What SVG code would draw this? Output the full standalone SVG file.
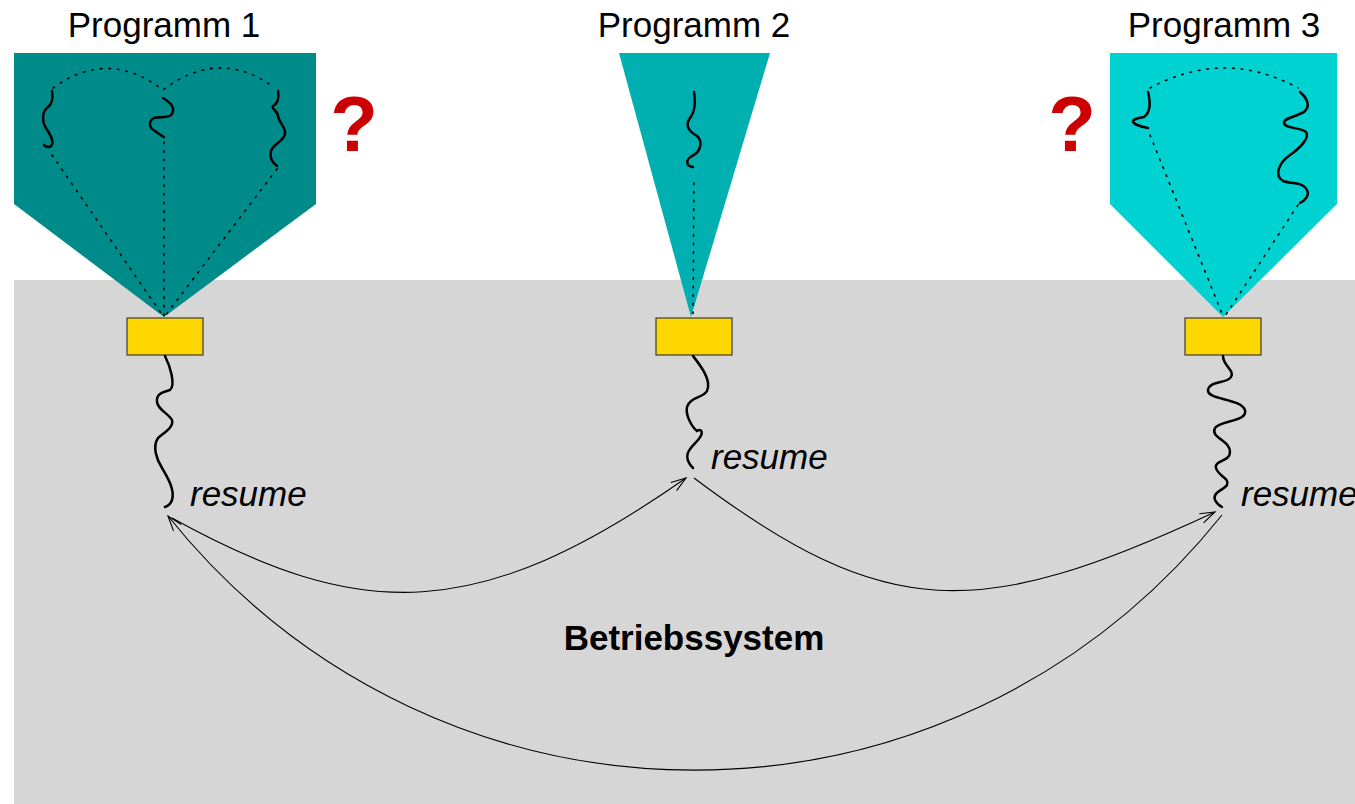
<svg xmlns="http://www.w3.org/2000/svg" width="1355" height="804" viewBox="0 0 1355 804">
<defs>
<style>
.title{font-family:"Liberation Sans",Arial,sans-serif;font-size:35px;fill:#000;text-anchor:middle}
.res{font-family:"Liberation Sans",Arial,sans-serif;font-size:35px;font-style:italic;fill:#000}
.os{font-family:"Liberation Sans",Arial,sans-serif;font-size:35px;font-weight:bold;fill:#000;text-anchor:middle}
.q{font-family:"Liberation Sans",Arial,sans-serif;font-size:78px;font-weight:bold;fill:#CC0000;text-anchor:middle}
.box{fill:#FFD700;stroke:#3a3a3a;stroke-width:1.2}
.sq{fill:none;stroke:#000;stroke-width:2.5;stroke-linecap:round}
.dot{fill:none;stroke:#000;stroke-width:1.6;stroke-dasharray:1.6 7;stroke-linecap:round}
.con{fill:none;stroke:#000;stroke-width:1.1}
</style>
<marker id="arr" markerUnits="userSpaceOnUse" markerWidth="20" markerHeight="14" viewBox="-16 -7 18 14" refX="0" refY="0" orient="auto">
<path d="M-15,-5 L0,0 L-15,5" fill="none" stroke="#000" stroke-width="1.1"/>
</marker>
</defs>

<rect id="betriebssystem-bg" x="14" y="280" width="1341" height="524" fill="#D6D6D6"/>

<g id="programm1">
<polygon points="14,53 316,53 316,204 164,317 14,204" fill="#008B8B"/>
<path class="dot" d="M53,88 Q108,48 163,90 Q218,48 272,86"/>
<path class="dot" d="M52,155 L163,316"/>
<path class="dot" d="M164,142 L164,316"/>
<path class="dot" d="M277,169 L165,316"/>
<path class="sq" d="M52,91 C53,97 53,104 47,108 C42,112 42,122 46,128 C50,134 55,142 51,146 C49,148 46,147 44,145"/>
<path class="sq" d="M163,98 C168,101 176,107 172,114 C169,119 160,116 154,118 C148,121 149,128 155,131 C159,134 162,136 164,137"/>
<path class="sq" d="M278,91 C279,97 279,103 273,106 C271,109 278,111 278,116 C279,123 286,127 285,134 C284,141 273,144 271,151 C269,158 273,163 277,166"/>
<text class="title" x="164" y="37">Programm 1</text>
<text class="q" x="354" y="151">?</text>
<rect class="box" x="127" y="318" width="76" height="37"/>
<path class="sq" d="M165,356 C170,366 176,385 170,390 C164,392 156,393 157,402 C158,410 168,413 172,420 C174,427 165,432 158,438 C152,447 157,460 162,468 C168,478 175,490 172,500 C171,503 168,506 165,507"/>
<text class="res" x="190" y="506">resume</text>
</g>

<g id="programm2">
<polygon points="619,53 770,53 691,317" fill="#00AFAF"/>
<path class="dot" d="M694,183 L693,316"/>
<path class="sq" d="M694,92 C695,100 696,110 690,118 C684,126 690,132 697,136 C703,141 701,152 692,156 C685,160 686,166 693,167"/>
<text class="title" x="694" y="37">Programm 2</text>
<rect class="box" x="656" y="318" width="76" height="37"/>
<path class="sq" d="M693,356 C700,365 712,380 707,391 C703,398 690,397 687,407 C685,416 693,428 697,431 C702,428 704,433 698,440 C692,447 680,455 693,468"/>
<text class="res" x="711" y="469">resume</text>
</g>

<g id="programm3">
<polygon points="1110,53 1337,53 1337,204 1223,317 1110,204" fill="#00D2D2"/>
<path class="dot" d="M1150,88 Q1225,48 1298,88"/>
<path class="dot" d="M1150,135 L1223,316"/>
<path class="dot" d="M1298,205 L1225,316"/>
<path class="sq" d="M1148,92 C1150,100 1151,112 1144,117 C1138,118 1130,120 1134,123 C1137,126 1143,127 1148,128"/>
<path class="sq" d="M1300,92 C1306,97 1311,105 1305,111 C1298,117 1284,117 1284,123 C1285,129 1300,127 1306,132 C1310,138 1300,148 1290,155 C1280,162 1273,175 1283,181 C1290,184 1302,181 1307,190 C1310,196 1304,201 1300,203"/>
<text class="title" x="1224" y="37">Programm 3</text>
<text class="q" x="1072" y="151">?</text>
<rect class="box" x="1185" y="318" width="76" height="37"/>
<path class="sq" d="M1223,356 C1223,366 1235,370 1231,377 C1227,384 1210,380 1208,390 C1207,400 1240,398 1245,410 C1248,422 1220,420 1215,428 C1210,438 1230,440 1230,452 C1230,462 1214,460 1216,468 C1218,476 1230,478 1227,485 C1224,490 1212,492 1215,500 C1217,504 1220,506 1222,507"/>
<text class="res" x="1241" y="506">resume</text>
</g>

<g id="connectors">
<path class="con" d="M172,518 C362,623 479,623 686,478" marker-end="url(#arr)"/>
<path class="con" d="M694,478 C886,622 979,622 1215,512" marker-end="url(#arr)"/>
<path class="con" d="M1222,515 C950,855 440,855 168,516" marker-end="url(#arr)"/>
</g>

<text class="os" x="694" y="650">Betriebssystem</text>
</svg>
